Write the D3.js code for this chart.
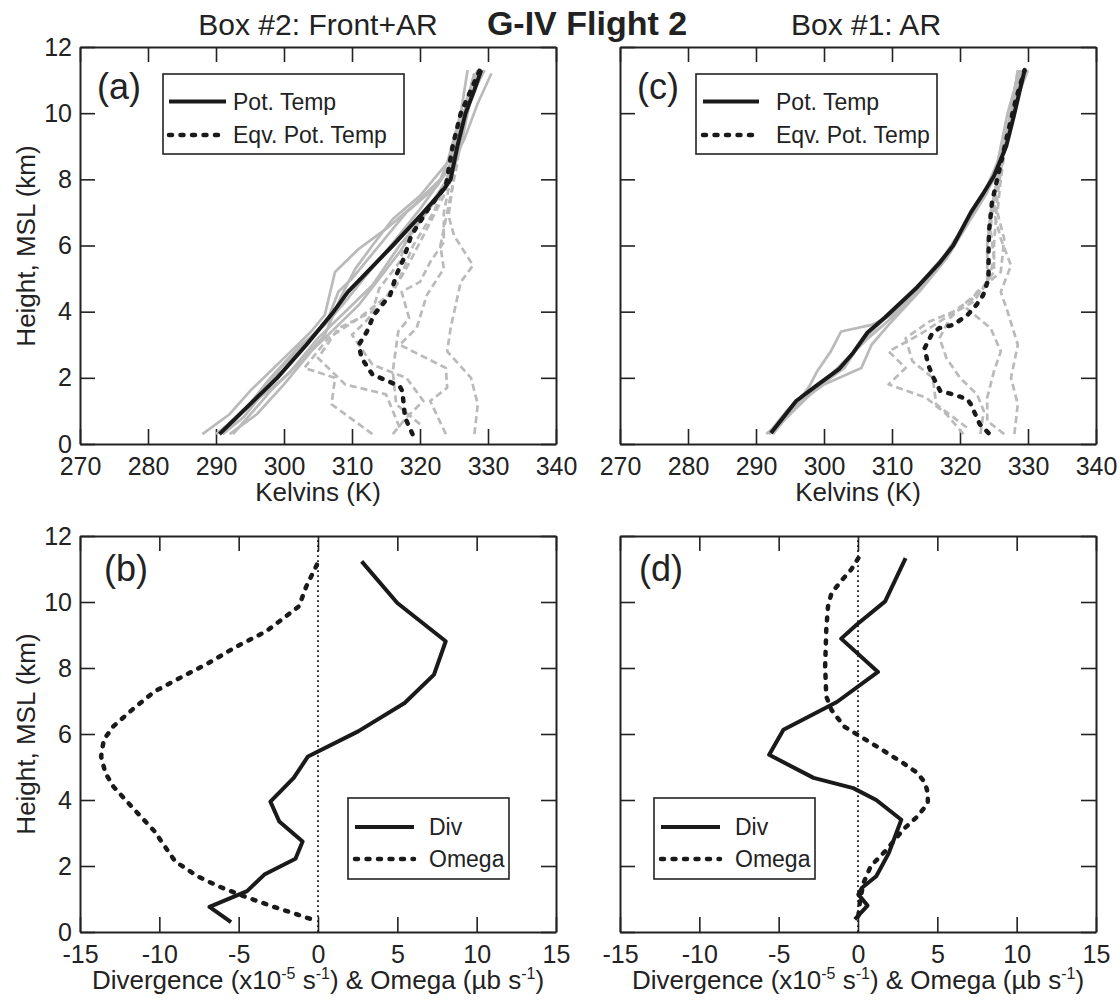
<!DOCTYPE html>
<html>
<head>
<meta charset="utf-8">
<script src="https://cdn.jsdelivr.net/npm/d3@7"></script>
<style>
  body { margin: 0; background: #fff; }
  text { font-family: "Liberation Sans", Arial, sans-serif; fill: #222; }
</style>
</head>
<body>
<svg id="chart" width="1120" height="1002"></svg>
<script>
// tick values
var heightTicks = [0, 2, 4, 6, 8, 10, 12];
var kelvinTicks = [270, 280, 290, 300, 310, 320, 330, 340];
var divTicks = [-15, -10, -5, 0, 5, 10, 15];

// panel (a) - Box #2 : [K, km]
var potTempA = [[290.5,0.3],[293,0.8],[296,1.4],[299,2],[303.3,3],[307.3,4],[309.4,4.6],[311.3,5],[316,6],[320.5,7],[323.5,7.7],[324.5,8],[325.5,9],[326.7,10],[328,10.7],[329,11.3]];
var eqvTempA = [[318.9,0.3],[317.8,0.8],[317.4,1.6],[317,1.75],[313,2.1],[311.4,2.6],[311,3.0],[312.2,3.4],[313.2,3.9],[315.6,4.5],[316.5,5.1],[317.6,5.6],[318.7,6.3],[321.2,7.1],[323.8,7.8],[324.8,9],[326,10],[327.5,10.7],[328.8,11.3]];
var potGrayA = [
  [[288,0.3],[292,0.9],[295,1.6],[298.5,2.3],[301,2.8],[304,3.4],[306,3.9],[307.5,5.2],[311,5.9],[315,6.5],[319,7.2],[323,8],[325,9],[326.5,10],[328,11.2]],
  [[291,0.3],[294,0.8],[296,1.3],[299.5,2.3],[303,3],[306.5,3.8],[308,4.6],[310,5],[314,6],[318,7],[322.5,7.8],[325,8.6],[326.5,10],[328,11.2]],
  [[292,0.3],[296,0.9],[300,1.8],[304,2.8],[308,3.6],[311,4.2],[314,5],[317,5.8],[320.5,6.9],[324,8],[326,9.5],[327,10.5],[328.5,11.3]],
  [[292.5,0.3],[295.5,1],[298,1.6],[301,2.2],[305,3.2],[309,4],[313,4.8],[317,6],[321,7],[324.5,8],[326,9],[327.5,10.5],[329.5,11.3]],
  [[290,0.3],[293,0.8],[297,1.5],[300,2],[303,2.6],[306,3.3],[308.5,4.5],[310.5,5.3],[313,6],[316,6.8],[320,7.5],[324,8.5],[326,10],[327,11.3]],
  [[291,0.3],[294.5,1.1],[298,2],[302,2.9],[306,3.6],[309,4.3],[312.5,5.2],[316.5,6.2],[320,7.1],[323.5,8.1],[326.5,9.2],[328.5,10.3],[330.5,11.2]]
];
var eqvGrayA = [
  [[313,0.3],[307,1.2],[307.5,2],[303,2.3],[306.5,3.2],[311,3.8],[316,4.6],[318.5,5.5],[321,6.5],[323.5,7.5],[325,8.5],[326,9.5],[327,10.5],[328.5,11.2]],
  [[328,0.3],[328.5,1.2],[327.5,2],[324,2.8],[324.5,3.5],[326,4.9],[327.8,5.4],[325,6.3],[324.2,6.9],[324.8,7.8],[325.5,9],[326.5,10],[328,11.2]],
  [[323.8,0.3],[321.5,1.3],[324,1.7],[323.8,2.3],[317,3],[319.5,3.5],[321,4.5],[323.5,5.3],[323,6],[324.5,7.5],[325.5,8.5],[326,9.5],[327.5,10.5],[329,11.3]],
  [[320,0.6],[316.5,1.2],[316,2.2],[316.8,3.4],[318.4,3.8],[317.3,4.6],[320,4.9],[321.5,5.5],[323.5,6.1],[323.5,7],[324.5,8],[325.5,9],[327,10.3],[328,11.2]],
  [[316,0.3],[318,0.8],[320.5,1.3],[318,2],[313,2.4],[310,3.3],[312,3.7],[314.5,4.3],[317,5],[319,6],[322,7],[324,8],[325.5,9.5],[327.5,10.8],[328.5,11.3]],
  [[317,0.5],[315,1.5],[309,1.8],[305,2.6],[308,3.5],[313,4],[314,4.7],[317,5.5],[318,6.2],[321,7],[324,8],[325,9],[326.5,10],[328,11]]
];

// panel (c) - Box #1
var potTempC = [[292.2,0.33],[294,0.8],[295.9,1.3],[298.8,1.75],[302.2,2.26],[304.3,2.76],[306.4,3.37],[309,3.83],[313.7,4.74],[316.9,5.45],[319,6],[321.6,7],[323.5,7.6],[325,8.1],[326.8,9],[327.9,9.9],[329.5,11.3]];
var eqvTempC = [[324.2,0.33],[322.9,0.6],[321.6,1.2],[321.1,1.35],[319,1.5],[317.1,1.6],[316.1,2.0],[315.3,2.4],[314.8,2.9],[315.8,3.3],[316.9,3.5],[319,3.6],[321.1,3.9],[322.4,4.2],[323.4,4.5],[324.2,5],[324.2,6],[324.3,6.5],[324.7,7.3],[325.8,8.3],[326.8,9.2],[328.2,10.4],[329.5,11.3]];
var potGrayC = [
  [[291.5,0.3],[295,0.9],[298,1.8],[299,2.2],[301,2.8],[302.5,3.4],[307,3.6],[310,3.9],[313,4.5],[316,5.3],[319,6],[322,7],[325,8],[327,9.5],[328.5,11.2]],
  [[292.5,0.3],[296,1.2],[300,1.8],[305.5,2.3],[307,3],[309.5,3.6],[314,4.6],[318,5.6],[321,6.6],[324,7.6],[326,8.8],[327.5,10],[330,11.3]],
  [[291.8,0.3],[294.5,1],[297,1.5],[301,2.1],[304,2.7],[306.5,3.2],[311,4],[315.5,5],[319,6.1],[322.5,7.1],[325.5,8.5],[327,10],[328.8,11.3]],
  [[292,0.3],[295,0.9],[299,1.7],[303,2.3],[305.5,3.1],[308.5,3.7],[312.5,4.4],[316.5,5.3],[320,6.4],[323.5,7.5],[326,8.6],[327.8,10],[329,11.3]]
];
var eqvGrayC = [
  [[328,0.3],[328.5,1.2],[327.5,2],[328.5,3],[327,4],[326,4.6],[327.5,5.4],[326,6.2],[325,7],[325.5,8],[326.5,9],[327.5,10],[328.5,11.2]],
  [[320.5,0.3],[318,0.9],[315,1.4],[309.5,1.8],[312,2.3],[309.5,2.8],[314,3.3],[318.5,3.9],[322,4.3],[324,4.9],[324,6],[324.5,7],[325.5,8],[326.5,9],[328,10.5],[329,11.3]],
  [[323,0.3],[323.5,1],[322.5,1.5],[320,2],[318,2.6],[317,3.2],[318.5,3.8],[321,4.3],[324,4.8],[325,5.6],[324.5,6.5],[325,7.5],[326,8.5],[327.5,10],[328.5,11.3]],
  [[326.5,0.3],[324,0.7],[324,1.4],[325,2.2],[326,2.8],[324.5,3.5],[321,4.1],[322.5,4.6],[326,5.2],[326.5,6.2],[325.5,7],[326,8],[327,9.5],[328.5,11.3]],
  [[321,0.5],[316.5,1.2],[316,2],[313,2.5],[312,3.2],[315.5,3.7],[319,4],[322.5,4.5],[325,5.2],[325,6],[325.5,7.5],[326.5,9],[328,10.5],[329.5,11.3]]
];

// panel (b) - Box #2 divergence / omega : [value, km]
var divB = [[2.75,11.23],[5.0,9.97],[8.05,8.81],[7.31,7.8],[5.46,6.94],[2.53,6.08],[-0.63,5.32],[-1.53,4.67],[-3.0,3.95],[-2.44,3.35],[-0.97,2.74],[-1.42,2.22],[-3.38,1.74],[-4.47,1.24],[-6.84,0.76],[-5.48,0.3]];
var omegaB = [[-0.07,11.13],[-0.74,10.47],[-1.2,9.87],[-2.2,9.5],[-3.3,9.1],[-5.1,8.66],[-6.9,8.15],[-8.5,7.75],[-10.3,7.29],[-11.7,6.74],[-12.9,6.23],[-13.5,5.83],[-13.67,5.32],[-13.4,4.82],[-12.9,4.41],[-11.46,3.65],[-10.3,3.05],[-9.65,2.59],[-9.0,2.14],[-7.6,1.69],[-6.3,1.39],[-4.7,1.09],[-2.9,0.78],[-1.3,0.53],[-0.07,0.33]];

// panel (d) - Box #1 divergence / omega
var divD = [[3.0,11.33],[1.71,10.02],[-0.09,9.31],[-1.06,8.89],[1.26,7.88],[-1.33,6.97],[-4.7,6.13],[-5.6,5.37],[-2.8,4.67],[-0.3,4.36],[1.15,4.0],[2.73,3.4],[1.94,2.39],[1.15,1.69],[0.25,1.34],[0.02,1.14],[0.6,0.8],[-0.2,0.38]];
var omegaD = [[0.02,11.33],[-0.43,10.98],[-0.99,10.68],[-1.67,10.27],[-1.89,9.87],[-2.0,9.16],[-2.07,8.05],[-2.0,7.14],[-1.67,6.73],[-0.88,6.23],[0.14,5.93],[1.49,5.53],[2.84,5.12],[3.74,4.82],[4.23,4.52],[4.4,4.2],[4.4,3.9],[3.74,3.5],[2.84,3.1],[1.82,2.5],[0.81,2.0],[0.36,1.5],[0.14,1.0],[0.02,0.48],[-0.3,0.33]];

var svg = d3.select("#chart");

var FONT = '"Liberation Sans", Arial, sans-serif';
var GRAY = "#bababa";
var BLACK = "#1a1a1a";
var DOTS = "3,8.5";

var colLeft = [80, 556], colRight = [620, 1096];
var rowTop = [444, 47], rowBottom = [932, 536];

// plain hyphen for negative ticks, like the original figure
var plainFmt = function(d) { return String(d); };

function makePanel(xr, yr, xdomain, xticks, showYLabels) {
  var x = d3.scaleLinear().domain(xdomain).range(xr);
  var y = d3.scaleLinear().domain([0, 12]).range(yr);
  var g = svg.append("g");

  function styleAxis(sel) {
    sel.selectAll(".domain").attr("stroke", "#222").attr("stroke-width", 2);
    sel.selectAll(".tick line").attr("stroke", "#222").attr("stroke-width", 1.6);
    sel.selectAll("text").attr("font-family", FONT).attr("font-size", 25).attr("fill", "#222");
  }

  g.append("g").attr("transform", "translate(0," + yr[0] + ")")
    .call(d3.axisBottom(x).tickValues(xticks).tickSize(-15).tickSizeOuter(0).tickPadding(13).tickFormat(plainFmt))
    .call(styleAxis);
  g.append("g").attr("transform", "translate(0," + yr[1] + ")")
    .call(d3.axisTop(x).tickValues(xticks).tickSize(-15).tickSizeOuter(0).tickFormat(""))
    .call(styleAxis);
  g.append("g").attr("transform", "translate(" + xr[0] + ",0)")
    .call(d3.axisLeft(y).tickValues(heightTicks).tickSize(-15).tickSizeOuter(0).tickPadding(8).tickFormat(showYLabels ? plainFmt : ""))
    .call(styleAxis);
  g.append("g").attr("transform", "translate(" + xr[1] + ",0)")
    .call(d3.axisRight(y).tickValues(heightTicks).tickSize(-15).tickSizeOuter(0).tickFormat(""))
    .call(styleAxis);

  var line = d3.line().x(function(d) { return x(d[0]); }).y(function(d) { return y(d[1]); });
  return { g: g, x: x, y: y, line: line };
}

function drawLine(p, data, color, width, dash) {
  p.g.append("path")
    .datum(data)
    .attr("d", p.line)
    .attr("fill", "none")
    .attr("stroke", color)
    .attr("stroke-width", width)
    .attr("stroke-linejoin", "round")
    .attr("stroke-linecap", dash === DOTS ? "round" : "butt")
    .attr("stroke-dasharray", dash || null);
}

function panelLabel(p, txt, x, y) {
  p.g.append("text").attr("x", x).attr("y", y).attr("font-size", 36).text(txt);
}

function legend(p, box, items) {
  p.g.append("rect").attr("x", box.x).attr("y", box.y).attr("width", box.w).attr("height", box.h)
    .attr("fill", "#fff").attr("stroke", "#222").attr("stroke-width", 1.6);
  items.forEach(function(it, i) {
    var yy = box.rows[i];
    p.g.append("line").attr("x1", box.l1).attr("x2", box.l2).attr("y1", yy).attr("y2", yy)
      .attr("stroke", BLACK).attr("stroke-width", it.dash ? 4.5 : 4)
      .attr("stroke-linecap", it.dash ? "round" : "butt")
      .attr("stroke-dasharray", it.dash || null);
    p.g.append("text").attr("x", box.tx).attr("y", yy).attr("dy", "0.36em")
      .attr("font-size", 23).text(it.name);
  });
}

// ---- panel (a)
var pa = makePanel(colLeft, rowTop, [270, 340], kelvinTicks, true);
potGrayA.forEach(function(d) { drawLine(pa, d, GRAY, 2.7); });
eqvGrayA.forEach(function(d) { drawLine(pa, d, GRAY, 2.7, "7,4"); });
drawLine(pa, eqvTempA, BLACK, 4.5, DOTS);
drawLine(pa, potTempA, BLACK, 4);
panelLabel(pa, "(a)", 97, 99);
legend(pa, {x: 163, y: 74, w: 241, h: 80, rows: [101.5, 135], l1: 169, l2: 226, tx: 233},
  [{name: "Pot. Temp"}, {name: "Eqv. Pot. Temp", dash: DOTS}]);

// ---- panel (c)
var pc = makePanel(colRight, rowTop, [270, 340], kelvinTicks, false);
potGrayC.forEach(function(d) { drawLine(pc, d, GRAY, 2.7); });
eqvGrayC.forEach(function(d) { drawLine(pc, d, GRAY, 2.7, "7,4"); });
drawLine(pc, eqvTempC, BLACK, 4.5, DOTS);
drawLine(pc, potTempC, BLACK, 4);
panelLabel(pc, "(c)", 637, 99);
legend(pc, {x: 696, y: 74, w: 241, h: 80, rows: [101.5, 135], l1: 703, l2: 759, tx: 776},
  [{name: "Pot. Temp"}, {name: "Eqv. Pot. Temp", dash: DOTS}]);

// ---- panel (b)
var pb = makePanel(colLeft, rowBottom, [-15, 15], divTicks, true);
pb.g.append("line").attr("x1", pb.x(0)).attr("x2", pb.x(0)).attr("y1", rowBottom[0]).attr("y2", rowBottom[1])
  .attr("stroke", BLACK).attr("stroke-width", 1.8).attr("stroke-dasharray", "1.8,3.2");
drawLine(pb, omegaB, BLACK, 4.5, DOTS);
drawLine(pb, divB, BLACK, 4);
panelLabel(pb, "(b)", 104, 581);
legend(pb, {x: 348, y: 798, w: 161, h: 81, rows: [827, 859], l1: 355, l2: 414, tx: 429},
  [{name: "Div"}, {name: "Omega", dash: DOTS}]);

// ---- panel (d)
var pd = makePanel(colRight, rowBottom, [-15, 15], divTicks, false);
pd.g.append("line").attr("x1", pd.x(0)).attr("x2", pd.x(0)).attr("y1", rowBottom[0]).attr("y2", rowBottom[1])
  .attr("stroke", BLACK).attr("stroke-width", 1.8).attr("stroke-dasharray", "1.8,3.2");
drawLine(pd, omegaD, BLACK, 4.5, DOTS);
drawLine(pd, divD, BLACK, 4);
panelLabel(pd, "(d)", 639, 581);
legend(pd, {x: 654, y: 798, w: 161, h: 81, rows: [827, 859], l1: 661, l2: 720, tx: 735},
  [{name: "Div"}, {name: "Omega", dash: DOTS}]);

// ---- titles and axis labels
svg.append("text").attr("x", 318).attr("y", 35).attr("text-anchor", "middle").attr("font-size", 30).text("Box #2: Front+AR");
svg.append("text").attr("x", 866).attr("y", 35).attr("text-anchor", "middle").attr("font-size", 30).text("Box #1: AR");
svg.append("text").attr("x", 587).attr("y", 35).attr("text-anchor", "middle").attr("font-size", 34)
  .attr("font-weight", "bold").text("G-IV Flight 2");

[246, 734].forEach(function(cy) {
  svg.append("text").attr("transform", "translate(35," + cy + ") rotate(-90)")
    .attr("text-anchor", "middle").attr("font-size", 26).text("Height, MSL (km)");
});

[318, 858].forEach(function(cx) {
  svg.append("text").attr("x", cx).attr("y", 501).attr("text-anchor", "middle").attr("font-size", 26).text("Kelvins (K)");
  var t = svg.append("text").attr("x", cx).attr("y", 989).attr("text-anchor", "middle").attr("font-size", 26);
  t.append("tspan").text("Divergence (x10");
  t.append("tspan").attr("font-size", 16).attr("dy", -10).text("-5");
  t.append("tspan").attr("dy", 10).text(" s");
  t.append("tspan").attr("font-size", 16).attr("dy", -10).text("-1");
  t.append("tspan").attr("dy", 10).text(") & Omega (\u00b5b s");
  t.append("tspan").attr("font-size", 16).attr("dy", -10).text("-1");
  t.append("tspan").attr("dy", 10).text(")");
});
</script>
</body>
</html>
